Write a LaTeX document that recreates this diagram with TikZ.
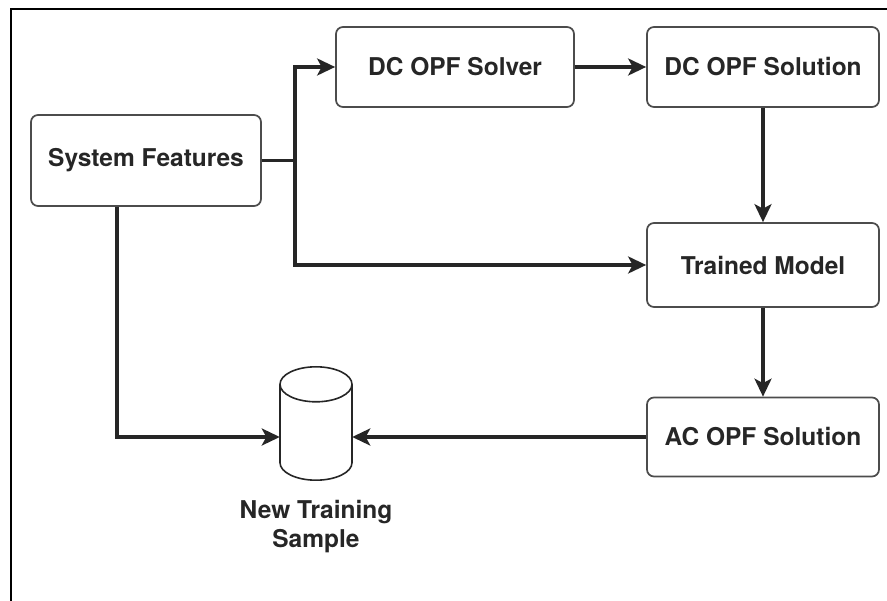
\documentclass[tikz,border=0pt]{standalone}
\usepackage{fontspec}
\setmainfont{TeX Gyre Heros}
\usetikzlibrary{arrows.meta}

\begin{document}
\begin{tikzpicture}[x=1pt,y=-1pt,>={Stealth[length=18pt,width=17pt,inset=4.5pt]},
    conn/.style={draw=black!85,line width=3.2pt},
    cyl/.style={draw=black!85,line width=1.6pt}]

      \useasboundingbox (0,0) rectangle (887,601);
      \draw [line width=2pt] (11,601) -- (11,9) -- (887,9);

      \begin{scope}[every node/.style={rectangle,rounded corners=7pt,draw=black!70,line width=1.7pt,
          minimum width=232pt,minimum height=80pt,text=black!85,
          font=\bfseries\fontsize{24.5}{29}\selectfont}]
        \node (feat) at (146,160.5) [minimum width=230pt,minimum height=91pt] {System Features};
        \node (solver) at (455,67) [minimum width=238pt] {DC OPF Solver};
        \node (dcsol) at (763,67) {DC OPF Solution};
        \node (model) at (763,265) [minimum height=84pt] {Trained Model};
        \node (acsol) at (763,437) [minimum height=79pt] {AC OPF Solution};
      \end{scope}

      % database cylinder
      \node (sample) at (316,423.5) [minimum width=72pt,minimum height=113pt,inner sep=0pt] {};
      \path (sample.north) ++(0,17.5) coordinate (ctop);
      \path (sample.south) ++(0,-17.5) coordinate (cbot);
      \draw [cyl] (ctop) ellipse [x radius=36pt,y radius=17.5pt];
      \draw [cyl] ([xshift=-36pt]ctop) -- ([xshift=-36pt]cbot)
        arc [start angle=180,end angle=360,x radius=36pt,y radius=17.5pt] -- ([xshift=36pt]ctop);
      \node (samplelbl) at (316,527) [align=center,text=black!85,
        font=\bfseries\fontsize{24.5}{29}\selectfont] {New Training\\Sample};

      \coordinate (split) at (295,160.5);

      \begin{scope}[every edge/.style={conn}]
        \path [->] (solver) edge (dcsol);
        \path [->] (dcsol) edge (model);
        \path [->] (model) edge (acsol);
        \path [->] (acsol.west) edge (acsol.west -| sample.east);
      \end{scope}
      \draw [conn,->] (feat.east) -- (split) |- (solver.west);
      \draw [conn,->] (split) |- (model.west);
      \draw [conn,->] ([xshift=-29pt]feat.south) |- (acsol.west -| sample.west);
    \end{tikzpicture}
\end{document}
